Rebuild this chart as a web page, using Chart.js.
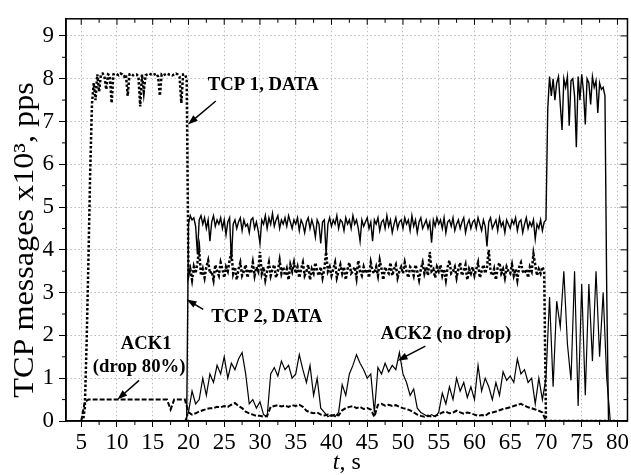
<!DOCTYPE html>
<html>
<head>
<meta charset="utf-8">
<script src="https://cdn.jsdelivr.net/npm/chart.js@4/dist/chart.umd.min.js"></script>
<style>
  html, body { margin: 0; padding: 0; background: #fff; }
  canvas { display: block; }
</style>
</head>
<body>
<canvas id="chart" width="631" height="475"></canvas>
<script>
// sample times for the ACK series, s (every 0.5 s)
const times = [
  5, 5.5, 6, 6.5, 7, 7.5, 8, 8.5, 9, 9.5,
  10, 10.5, 11, 11.5, 12, 12.5, 13, 13.5, 14, 14.5,
  15, 15.5, 16, 16.5, 17, 17.5, 18, 18.5, 19, 19.5,
  20, 20.5, 21, 21.5, 22, 22.5, 23, 23.5, 24, 24.5,
  25, 25.5, 26, 26.5, 27, 27.5, 28, 28.5, 29, 29.5,
  30, 30.5, 31, 31.5, 32, 32.5, 33, 33.5, 34, 34.5,
  35, 35.5, 36, 36.5, 37, 37.5, 38, 38.5, 39, 39.5,
  40, 40.5, 41, 41.5, 42, 42.5, 43, 43.5, 44, 44.5,
  45, 45.5, 46, 46.5, 47, 47.5, 48, 48.5, 49, 49.5,
  50, 50.5, 51, 51.5, 52, 52.5, 53, 53.5, 54, 54.5,
  55, 55.5, 56, 56.5, 57, 57.5, 58, 58.5, 59, 59.5,
  60, 60.5, 61, 61.5, 62, 62.5, 63, 63.5, 64, 64.5,
  65, 65.5, 66, 66.5, 67, 67.5, 68, 68.5, 69, 69.5,
  70, 70.5, 71, 71.5, 72, 72.5, 73, 73.5, 74, 74.5,
  75, 75.5, 76, 76.5, 77, 77.5, 78, 78.5, 79, 79.5,
  80
];

// sample times for the DATA series, s (every 0.25 s)
const fineTimes = [
  5, 5.25, 5.5, 5.75, 6, 6.25, 6.5, 6.75, 7, 7.25, 7.5, 7.75, 8, 8.25, 8.5, 8.75, 9, 9.25, 9.5, 9.75,
  10, 10.25, 10.5, 10.75, 11, 11.25, 11.5, 11.75, 12, 12.25, 12.5, 12.75, 13, 13.25, 13.5, 13.75, 14, 14.25, 14.5, 14.75,
  15, 15.25, 15.5, 15.75, 16, 16.25, 16.5, 16.75, 17, 17.25, 17.5, 17.75, 18, 18.25, 18.5, 18.75, 19, 19.25, 19.5, 19.75,
  20, 20.25, 20.5, 20.75, 21, 21.25, 21.5, 21.75, 22, 22.25, 22.5, 22.75, 23, 23.25, 23.5, 23.75, 24, 24.25, 24.5, 24.75,
  25, 25.25, 25.5, 25.75, 26, 26.25, 26.5, 26.75, 27, 27.25, 27.5, 27.75, 28, 28.25, 28.5, 28.75, 29, 29.25, 29.5, 29.75,
  30, 30.25, 30.5, 30.75, 31, 31.25, 31.5, 31.75, 32, 32.25, 32.5, 32.75, 33, 33.25, 33.5, 33.75, 34, 34.25, 34.5, 34.75,
  35, 35.25, 35.5, 35.75, 36, 36.25, 36.5, 36.75, 37, 37.25, 37.5, 37.75, 38, 38.25, 38.5, 38.75, 39, 39.25, 39.5, 39.75,
  40, 40.25, 40.5, 40.75, 41, 41.25, 41.5, 41.75, 42, 42.25, 42.5, 42.75, 43, 43.25, 43.5, 43.75, 44, 44.25, 44.5, 44.75,
  45, 45.25, 45.5, 45.75, 46, 46.25, 46.5, 46.75, 47, 47.25, 47.5, 47.75, 48, 48.25, 48.5, 48.75, 49, 49.25, 49.5, 49.75,
  50, 50.25, 50.5, 50.75, 51, 51.25, 51.5, 51.75, 52, 52.25, 52.5, 52.75, 53, 53.25, 53.5, 53.75, 54, 54.25, 54.5, 54.75,
  55, 55.25, 55.5, 55.75, 56, 56.25, 56.5, 56.75, 57, 57.25, 57.5, 57.75, 58, 58.25, 58.5, 58.75, 59, 59.25, 59.5, 59.75,
  60, 60.25, 60.5, 60.75, 61, 61.25, 61.5, 61.75, 62, 62.25, 62.5, 62.75, 63, 63.25, 63.5, 63.75, 64, 64.25, 64.5, 64.75,
  65, 65.25, 65.5, 65.75, 66, 66.25, 66.5, 66.75, 67, 67.25, 67.5, 67.75, 68, 68.25, 68.5, 68.75, 69, 69.25, 69.5, 69.75,
  70, 70.25, 70.5, 70.75, 71, 71.25, 71.5, 71.75, 72, 72.25, 72.5, 72.75, 73, 73.25, 73.5, 73.75, 74, 74.25, 74.5, 74.75,
  75, 75.25, 75.5, 75.75, 76, 76.25, 76.5, 76.75, 77, 77.25, 77.5, 77.75, 78, 78.25, 78.5, 78.75, 79, 79.25, 79.5, 79.75,
  80
];

// TCP 1, DATA (x10^3 pps), on fineTimes
const tcp1Data = [
  0, 0, 0.3, 1.8, 3.7, 5.8, 7.4, 7.9, 7.5, 8.1, 7.7, 8.1, 8.12, 8.05, 7.75, 8.1, 8.08, 7.43, 8.1, 8.12,
  8.1, 8.08, 8.12, 8.1, 8.05, 8.1, 7.6, 8.1, 8.12, 8.08, 8.1, 8.1, 8.05, 7.35, 8.1, 7.7, 8.08, 8.1, 8.12, 8.1,
  8.08, 8.1, 8.12, 8.05, 7.6, 8.1, 8.08, 8.1, 8.12, 8.1, 8.1, 8.08, 8.1, 8.12, 8.1, 8.05, 7.43, 8.1, 8.1, 8.0,
  3.4, 3.55, 3.3, 3.6, 3.45, 3.7, 4.0, 3.4, 3.55, 3.35, 3.6, 3.75, 3.45, 3.5, 3.3, 3.65, 3.5, 3.4, 3.7, 3.55,
  3.35, 3.6, 3.5, 3.75, 3.95, 3.45, 3.6, 3.3, 3.55, 3.7, 3.4, 3.5, 3.65, 3.35, 3.55, 3.45, 3.7, 3.4, 3.6, 3.5,
  3.95, 3.45, 3.6, 3.3, 3.5, 3.7, 3.4, 3.55, 3.65, 3.35, 3.5, 3.75, 3.45, 3.6, 3.4, 3.55, 3.3, 3.65, 3.5, 3.7,
  3.45, 3.6, 3.35, 3.55, 3.7, 3.4, 3.5, 3.65, 3.3, 3.55, 3.45, 3.7, 3.5, 3.4, 3.6, 3.35, 3.55, 3.95, 3.5, 3.6,
  3.4, 3.55, 3.7, 3.35, 3.5, 3.65, 3.45, 3.6, 3.3, 3.55, 3.7, 3.45, 3.5, 3.6, 3.35, 3.75, 3.5, 3.4, 3.6, 3.45,
  3.55, 3.35, 3.7, 3.5, 3.45, 3.6, 3.4, 3.75, 3.55, 3.3, 3.6, 3.5, 3.45, 3.7, 3.4, 3.55, 3.65, 3.35, 3.5, 3.6,
  3.45, 3.7, 3.5, 3.35, 3.6, 3.55, 3.4, 3.65, 3.5, 3.3, 3.55, 3.7, 3.45, 3.6, 3.4, 3.95, 3.5, 3.55, 3.35, 3.6,
  3.5, 3.65, 3.4, 3.55, 3.3, 3.6, 3.75, 3.45, 3.5, 3.6, 3.35, 3.55, 3.7, 3.4, 3.5, 3.65, 3.3, 3.55, 3.45, 3.6,
  3.4, 3.55, 3.7, 3.35, 3.5, 3.65, 3.45, 3.6, 4.0, 3.5, 3.4, 3.55, 3.3, 3.6, 3.7, 3.45, 3.55, 3.35, 3.6, 3.5,
  3.45, 3.65, 3.4, 3.55, 3.3, 3.6, 3.7, 3.5, 3.45, 3.55, 3.35, 3.6, 3.5, 3.9, 3.65, 3.4, 3.55, 3.45, 3.6, 3.5,
  0, 0, 0, 0, 0, 0, 0, 0, 0, 0, 0, 0, 0, 0, 0, 0, 0, 0, 0, 0,
  0, 0, 0, 0, 0, 0, 0, 0, 0, 0, 0, 0, 0, 0, 0, 0, 0, 0, 0, 0,
  0
];

// TCP 2, DATA, on fineTimes
const tcp2Data = [
  0, 0, 0, 0, 0, 0, 0, 0, 0, 0, 0, 0, 0, 0, 0, 0, 0, 0, 0, 0,
  0, 0, 0, 0, 0, 0, 0, 0, 0, 0, 0, 0, 0, 0, 0, 0, 0, 0, 0, 0,
  0, 0, 0, 0, 0, 0, 0, 0, 0, 0, 0, 0, 0, 0, 0, 0, 0, 0, 0, 0,
  4.6, 4.8, 4.7, 4.75, 4.55, 3.9, 4.7, 4.8, 4.6, 4.75, 4.5, 4.7, 4.2, 4.65, 4.8, 4.55, 4.7, 4.6, 4.75, 4.5,
  4.7, 4.35, 4.65, 4.75, 3.75, 4.6, 4.7, 4.5, 4.65, 4.75, 4.45, 4.7, 4.55, 4.6, 4.4, 4.7, 4.75, 4.5, 4.65, 4.45,
  4.15, 4.7, 4.6, 4.8, 4.5, 4.75, 4.6, 4.85, 4.55, 4.7, 4.8, 4.5, 4.7, 4.6, 4.75, 4.55, 4.8, 4.65, 4.5, 4.7,
  4.6, 4.75, 4.45, 4.7, 4.6, 4.4, 4.65, 4.75, 4.5, 4.7, 4.55, 4.3, 4.7, 4.6, 4.15, 4.65, 4.7, 3.9, 4.6, 4.75,
  4.55, 4.7, 4.6, 4.8, 4.5, 4.7, 4.65, 4.45, 4.75, 4.6, 4.7, 4.5, 4.8, 4.6, 4.7, 4.5, 4.2, 4.7, 4.55, 4.65,
  4.75, 4.5, 4.65, 4.2, 4.7, 4.6, 4.75, 4.45, 4.65, 4.7, 4.5, 4.8, 4.55, 4.7, 4.4, 4.6, 4.75, 4.5, 4.65, 4.7,
  4.5, 4.75, 4.6, 4.7, 4.45, 4.8, 4.55, 4.7, 4.4, 4.65, 4.75, 4.5, 4.6, 4.7, 4.5, 4.65, 4.17, 4.7, 4.55, 4.75,
  4.6, 4.7, 4.5, 4.75, 4.4, 4.65, 4.7, 4.55, 4.75, 4.45, 4.6, 4.7, 4.5, 4.65, 4.75, 4.4, 4.6, 4.7, 4.5, 4.65,
  4.7, 4.5, 4.75, 4.6, 4.45, 4.7, 4.55, 4.08, 4.65, 4.75, 4.5, 4.6, 4.7, 4.45, 4.75, 4.55, 4.65, 4.4, 4.7, 4.6,
  4.5, 4.7, 4.6, 4.75, 4.45, 4.65, 4.7, 4.4, 4.6, 4.75, 4.5, 4.65, 4.55, 4.7, 4.25, 4.6, 4.5, 4.7, 4.45, 4.65,
  4.7, 7.3, 8.05, 7.6, 8.0, 7.5, 7.9, 8.05, 7.4, 6.8, 8.0, 7.8, 8.05, 6.9, 7.95, 8.0, 7.6, 6.4, 8.05, 7.5,
  8.1, 7.7, 6.93, 8.0, 7.9, 7.4, 8.05, 7.8, 7.95, 7.2, 7.9, 7.75, 7.8, 7.6, 3.0, 0, 0, 0, 0, 0,
  0
];

// ACK1 (drop 80%), on times
const ack1Data = [
  0, 0.45, 0.5, 0.5, 0.5, 0.5, 0.5, 0.5, 0.5, 0.5,
  0.5, 0.5, 0.5, 0.5, 0.5, 0.5, 0.5, 0.5, 0.5, 0.5,
  0.5, 0.5, 0.5, 0.5, 0.5, 0.27, 0.5, 0.5, 0.5, 0.5,
  0.2, 0.15, 0.18, 0.22, 0.25, 0.28, 0.3, 0.3, 0.33, 0.32,
  0.35, 0.33, 0.38, 0.42, 0.35, 0.3, 0.22, 0.18, 0.15, 0.12,
  0.12, 0.1, 0.12, 0.33, 0.35, 0.37, 0.34, 0.36, 0.33, 0.37,
  0.35, 0.38, 0.33, 0.24, 0.2, 0.18, 0.2, 0.15, 0.13, 0.15,
  0.12, 0.15, 0.13, 0.25, 0.3, 0.33, 0.35, 0.3, 0.33, 0.28,
  0.3, 0.27, 0.1, 0.38, 0.4, 0.36, 0.38, 0.35, 0.37, 0.33,
  0.3, 0.28, 0.25, 0.2, 0.15, 0.12, 0.1, 0.13, 0.1, 0.12,
  0.15, 0.2, 0.22, 0.18, 0.2, 0.24, 0.2, 0.17, 0.2, 0.18,
  0.15, 0.12, 0.14, 0.12, 0.18, 0.2, 0.22, 0.25, 0.28, 0.3,
  0.32, 0.35, 0.38, 0.4, 0.36, 0.32, 0.3, 0.27, 0.24, 0.2,
  0, 0, 0, 0, 0, 0, 0, 0, 0, 0,
  0, 0, 0, 0, 0, 0, 0, 0, 0, 0,
  0
];

// ACK2 (no drop), on times
const ack2Data = [
  0, 0, 0, 0, 0, 0, 0, 0, 0, 0,
  0, 0, 0, 0, 0, 0, 0, 0, 0, 0,
  0, 0, 0, 0, 0, 0, 0, 0, 0, 0,
  0.2, 0.7, 0.4, 0.5, 1.0, 0.6, 1.1, 0.9, 1.3, 1.1,
  1.5, 1.0, 1.35, 1.2, 1.45, 1.6, 1.1, 0.4, 0.5, 0.3,
  0.45, 0.15, 0.1, 1.1, 1.25, 1.05, 1.4, 1.2, 1.3, 1.0,
  1.1, 1.55, 1.2, 0.9, 1.3, 0.6, 1.0, 0.3, 0.2, 0.1,
  0.15, 0.1, 0.2, 0.85, 0.6, 1.1, 1.3, 1.55, 1.35, 1.2,
  1.0, 1.1, 0.2, 1.25, 1.1, 1.35, 1.15, 1.3, 1.2, 1.6,
  1.1, 0.9, 0.6, 0.75, 0.3, 0.2, 0.15, 0.1, 0.15, 0.1,
  0.2, 0.65, 0.4, 0.8, 0.5, 1.0, 0.7, 0.9, 0.55, 0.8,
  0.5, 1.3, 0.7, 1.0, 0.8, 0.5, 0.9, 0.6, 1.15, 0.95,
  1.05, 0.9, 1.45, 1.1, 1.2, 0.9, 1.0, 0.4, 1.0, 0.5,
  1.0, 2.9, 0.8, 2.8, 2.2, 3.5, 1.8, 0.95, 3.5, 0.35,
  3.2, 0.6, 3.2, 1.4, 3.5, 1.5, 3.0, 1.0, 0, 0,
  0
];

const xTicks = [5, 10, 15, 20, 25, 30, 35, 40, 45, 50, 55, 60, 65, 70, 75, 80];
const xMinor = [7.5, 12.5, 17.5, 22.5, 27.5, 32.5, 37.5, 42.5, 47.5, 52.5, 57.5, 62.5, 67.5, 72.5, 77.5];
const yTicks = [0, 1, 2, 3, 4, 5, 6, 7, 8, 9];
const yMinor = [0.5, 1.5, 2.5, 3.5, 4.5, 5.5, 6.5, 7.5, 8.5];

// text notes and arrows, placed in data units
const notes = [
  { text: 'TCP 1, DATA', t: 22.7, v: 7.73, align: 'left' },
  { text: 'TCP 2, DATA', t: 23.2, v: 2.31, align: 'left' },
  { text: 'ACK1', t: 14.07, v: 1.69, align: 'center' },
  { text: '(drop 80%)', t: 13.1, v: 1.14, align: 'center' },
  { text: 'ACK2 (no drop)', t: 46.9, v: 1.92, align: 'left' }
];
const arrows = [
  { from: [23.83, 7.48], to: [19.92, 6.93] },
  { from: [22.06, 2.61], to: [19.74, 2.84] },
  { from: [13.09, 0.95], to: [10.06, 0.50] },
  { from: [53.13, 1.75], to: [49.25, 1.41] }
];

const FONT = 'Liberation Serif';

function pts(ts, vals) {
  return ts.map((t, i) => ({ x: t, y: vals[i] }));
}

const frame = {
  id: 'frame',
  afterDraw(chart) {
    const ctx = chart.ctx;
    const a = chart.chartArea;
    const x = chart.scales.x, y = chart.scales.y;
    ctx.save();
    ctx.strokeStyle = '#000';
    ctx.lineWidth = 1.5;
    ctx.strokeRect(a.left, a.top, a.right - a.left, a.bottom - a.top);

    // mirrored and minor ticks
    ctx.lineWidth = 1;
    ctx.beginPath();
    xTicks.forEach(v => {
      const p = x.getPixelForValue(v);
      ctx.moveTo(p, a.top); ctx.lineTo(p, a.top + 6);
    });
    xMinor.forEach(v => {
      const p = x.getPixelForValue(v);
      ctx.moveTo(p, a.top); ctx.lineTo(p, a.top + 4);
      ctx.moveTo(p, a.bottom); ctx.lineTo(p, a.bottom + 4);
    });
    yTicks.forEach(v => {
      const p = y.getPixelForValue(v);
      ctx.moveTo(a.right, p); ctx.lineTo(a.right - 7, p);
    });
    yMinor.forEach(v => {
      const p = y.getPixelForValue(v);
      ctx.moveTo(a.right, p); ctx.lineTo(a.right - 4, p);
      ctx.moveTo(a.left, p); ctx.lineTo(a.left - 4, p);
    });
    ctx.stroke();

    // axis titles
    ctx.fillStyle = '#000';
    ctx.save();
    ctx.translate(a.left - 33, (a.top + a.bottom) / 2 + 20);
    ctx.rotate(-Math.PI / 2);
    ctx.scale(1.11, 1);
    ctx.font = '29px "' + FONT + '"';
    ctx.textAlign = 'center';
    ctx.textBaseline = 'alphabetic';
    ctx.fillText('TCP messages x10\u00b3, pps', 0, 0);
    ctx.restore();

    ctx.textBaseline = 'alphabetic';
    ctx.textAlign = 'left';
    const cx = (a.left + a.right) / 2;
    ctx.font = 'italic 24px "' + FONT + '"';
    const w1 = ctx.measureText('t').width;
    ctx.font = '24px "' + FONT + '"';
    const w2 = ctx.measureText(', s').width;
    const sx = cx - (w1 + w2) / 2;
    ctx.font = 'italic 24px "' + FONT + '"';
    ctx.fillText('t', sx, 469);
    ctx.font = '24px "' + FONT + '"';
    ctx.fillText(', s', sx + w1, 469);

    // notes
    ctx.font = 'bold 18.7px "' + FONT + '"';
    notes.forEach(n => {
      ctx.textAlign = n.align;
      ctx.fillText(n.text, x.getPixelForValue(n.t), y.getPixelForValue(n.v));
    });

    // arrows
    ctx.lineWidth = 1.5;
    arrows.forEach(ar => {
      const x0 = x.getPixelForValue(ar.from[0]), y0 = y.getPixelForValue(ar.from[1]);
      const x1 = x.getPixelForValue(ar.to[0]), y1 = y.getPixelForValue(ar.to[1]);
      const ang = Math.atan2(y1 - y0, x1 - x0);
      const len = 10, hw = 3.5;
      ctx.beginPath();
      ctx.moveTo(x0, y0);
      ctx.lineTo(x1 - Math.cos(ang) * len * 0.8, y1 - Math.sin(ang) * len * 0.8);
      ctx.stroke();
      ctx.beginPath();
      ctx.moveTo(x1, y1);
      ctx.lineTo(x1 - Math.cos(ang) * len - Math.sin(ang) * hw, y1 - Math.sin(ang) * len + Math.cos(ang) * hw);
      ctx.lineTo(x1 - Math.cos(ang) * len + Math.sin(ang) * hw, y1 - Math.sin(ang) * len - Math.cos(ang) * hw);
      ctx.closePath();
      ctx.fill();
    });
    ctx.restore();
  }
};

const tickFont = { family: FONT, size: 23 };

const ctx = document.getElementById('chart').getContext('2d');
new Chart(ctx, {
  type: 'line',
  data: {
    datasets: [
      { label: 'ACK1', data: pts(times, ack1Data), borderColor: '#000', borderWidth: 2, borderDash: [5, 2] },
      { label: 'TCP 1, DATA', data: pts(fineTimes, tcp1Data), borderColor: '#000', borderWidth: 2.5, borderDash: [2.5, 2] },
      { label: 'ACK2', data: pts(times, ack2Data), borderColor: '#000', borderWidth: 1.2 },
      { label: 'TCP 2, DATA', data: pts(fineTimes, tcp2Data), borderColor: '#000', borderWidth: 1.4 }
    ]
  },
  options: {
    responsive: false,
    animation: false,
    layout: { padding: { left: 0, right: 2, top: 10, bottom: 0 } },
    plugins: { legend: { display: false }, tooltip: { enabled: false } },
    elements: { point: { radius: 0 }, line: { tension: 0, fill: false } },
    scales: {
      x: {
        type: 'linear',
        min: 2.87,
        max: 81.4,
        afterFit: s => { s.height = 54; },
        afterBuildTicks: s => { s.ticks = xTicks.map(v => ({ value: v })); },
        grid: { color: '#bdbdbd', lineWidth: 1, drawTicks: true, tickLength: 6, tickColor: '#000' },
        border: { display: true, color: '#000', width: 1.5, dash: [1.5, 2.5] },
        ticks: { font: tickFont, color: '#000', padding: 2, maxRotation: 0, autoSkip: false }
      },
      y: {
        min: 0,
        max: 9.4,
        afterFit: s => { s.width = 66; },
        afterBuildTicks: s => { s.ticks = yTicks.map(v => ({ value: v })); },
        grid: { color: '#bdbdbd', lineWidth: 1, drawTicks: true, tickLength: 7, tickColor: '#000' },
        border: { display: true, color: '#000', width: 1.5, dash: [1.5, 2.5] },
        ticks: { font: tickFont, color: '#000', padding: 5, autoSkip: false }
      }
    }
  },
  plugins: [frame]
});
</script>
</body>
</html>
